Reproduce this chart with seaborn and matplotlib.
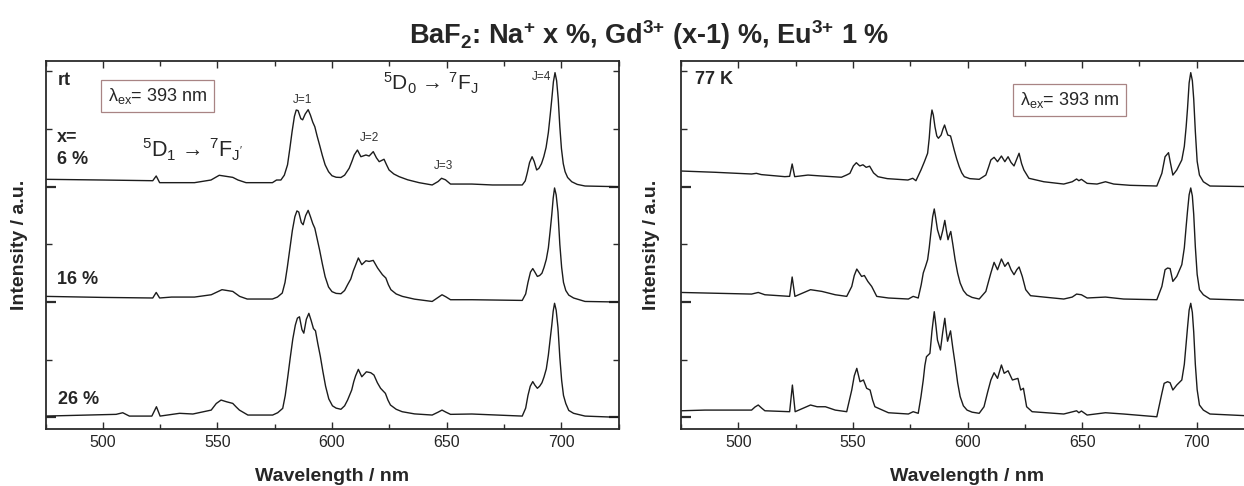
import pandas as pd
import seaborn as sns
import matplotlib.pyplot as plt
from matplotlib.ticker import MultipleLocator, FixedLocator

# emission spectra: (wavelength in nm, intensity normalised to the J=4 line)
rt_6 = [(475, 0.064), (500, 0.058), (521.8, 0.052), (523.3, 0.093), (524.8, 0.035), (540, 0.035),
        (547.2, 0.058), (550.8, 0.099), (556.7, 0.081), (559, 0.058), (562.5, 0.035), (574, 0.035),
        (575.8, 0.058), (577.7, 0.058), (579.2, 0.1), (580.6, 0.19), (581.6, 0.33), (582.6, 0.48),
        (583.6, 0.61), (584.4, 0.665), (585.2, 0.66), (586.4, 0.59), (587.2, 0.58), (588.3, 0.63),
        (589.6, 0.668), (590.6, 0.62), (591.6, 0.56), (592.5, 0.52), (593.5, 0.44), (594.6, 0.36),
        (595.8, 0.27), (597, 0.19), (598.5, 0.13), (600, 0.095), (601.8, 0.082), (603.9, 0.08),
        (605.5, 0.1), (606.5, 0.13), (607.5, 0.16), (608.7, 0.22), (609.7, 0.275), (611.1, 0.318),
        (612.6, 0.26), (614.8, 0.275), (616.2, 0.266), (618, 0.304), (619.4, 0.25), (620.6, 0.217),
        (622.7, 0.238), (623.8, 0.19), (624.9, 0.145), (627, 0.11), (629.3, 0.087), (633, 0.06),
        (638, 0.035), (643.7, 0.015), (646.3, 0.045), (647.8, 0.073), (649.5, 0.06), (651.7, 0.023),
        (661, 0.023), (670, 0.015), (683, 0.015), (684.3, 0.05), (685.2, 0.12), (686.2, 0.21),
        (687.3, 0.26), (688.2, 0.22), (689.3, 0.145), (690.3, 0.16), (691.4, 0.2), (692.4, 0.26),
        (693.4, 0.34), (694.4, 0.47), (695.2, 0.62), (695.9, 0.76), (696.6, 0.91), (697.3, 0.989),
        (698, 0.92), (698.7, 0.76), (699.4, 0.52), (700.1, 0.33), (700.9, 0.2), (701.7, 0.13),
        (702.8, 0.08), (704.6, 0.043), (707, 0.02), (710.4, 0.006), (725, 0.0)]
rt_16 = [(475, 0.049), (500, 0.04), (521.8, 0.035), (523.3, 0.083), (524.8, 0.035), (530, 0.043),
         (540, 0.043), (547.3, 0.063), (552, 0.107), (556.7, 0.092), (559.7, 0.049), (563, 0.026),
         (574, 0.026), (576.2, 0.043), (578.3, 0.078), (579.5, 0.17), (580.5, 0.3), (581.6, 0.46),
         (582.7, 0.62), (583.8, 0.74), (584.7, 0.79), (585.5, 0.78), (586.6, 0.69), (587.4, 0.67),
         (588.5, 0.75), (589.6, 0.795), (590.6, 0.74), (591.6, 0.68), (592.5, 0.64), (593.5, 0.55),
         (594.6, 0.45), (595.8, 0.33), (597, 0.22), (598.5, 0.13), (600, 0.09), (601.8, 0.075),
         (603.9, 0.072), (605.5, 0.1), (606.8, 0.15), (608.2, 0.2), (609.3, 0.27), (610.1, 0.31),
         (611.5, 0.382), (613, 0.324), (614.8, 0.358), (616.2, 0.352), (618, 0.361), (619.9, 0.295),
         (622, 0.237), (623.5, 0.208), (624.6, 0.15), (625.7, 0.107), (628, 0.07), (630.7, 0.049),
         (636, 0.025), (643.7, 0.005), (646.3, 0.04), (648, 0.063), (649.7, 0.045), (651.7, 0.02),
         (661, 0.02), (683, 0.014), (684.5, 0.07), (685.5, 0.17), (686.6, 0.26), (687.6, 0.29),
         (688.5, 0.26), (689.6, 0.222), (690.6, 0.23), (691.6, 0.25), (692.5, 0.3), (693.5, 0.37),
         (694.4, 0.47), (695.2, 0.62), (695.9, 0.76), (696.5, 0.9), (697.1, 0.989), (697.8, 0.93),
         (698.6, 0.78), (699.4, 0.5), (700.2, 0.3), (701, 0.17), (702, 0.1), (703.3, 0.06),
         (705.4, 0.035), (710.4, 0.005), (725, 0.0)]
rt_26 = [(475, 0.011), (505.8, 0.026), (508.7, 0.04), (511.6, 0.011), (521.4, 0.011), (523.4, 0.092),
         (525, 0.011), (533.5, 0.035), (539.3, 0.029), (547.3, 0.063), (549.5, 0.12), (551.6, 0.15),
         (554, 0.135), (556.7, 0.121), (558.2, 0.09), (559.6, 0.063), (563.3, 0.02), (574.1, 0.02),
         (576.3, 0.04), (578.5, 0.078), (579.6, 0.19), (580.7, 0.35), (581.8, 0.52), (582.9, 0.68),
         (584, 0.8), (584.9, 0.86), (585.8, 0.872), (586.9, 0.76), (587.7, 0.73), (588.8, 0.85),
         (589.9, 0.902), (590.9, 0.84), (591.9, 0.77), (592.8, 0.75), (593.8, 0.64), (594.9, 0.53),
         (596, 0.4), (597.2, 0.27), (598.6, 0.16), (600.2, 0.1), (601.8, 0.08), (603.9, 0.07),
         (605.5, 0.1), (606.8, 0.15), (608.6, 0.237), (609.5, 0.31), (610.3, 0.36), (611.5, 0.416),
         (613, 0.352), (615, 0.395), (616.9, 0.387), (618.3, 0.367), (619.8, 0.3), (621.2, 0.252),
         (623.3, 0.208), (624.4, 0.15), (625.5, 0.107), (628, 0.07), (630.6, 0.049), (636, 0.03),
         (643.7, 0.02), (646.3, 0.045), (648, 0.063), (649.7, 0.045), (651.7, 0.026), (661, 0.029),
         (683, 0.011), (684.5, 0.08), (685.5, 0.19), (686.5, 0.27), (687.6, 0.31), (688.5, 0.28),
         (689.6, 0.252), (690.6, 0.27), (691.6, 0.3), (692.5, 0.35), (693.5, 0.42), (694.4, 0.54),
         (695.2, 0.68), (695.9, 0.8), (696.5, 0.92), (697.1, 0.989), (697.8, 0.93), (698.6, 0.78),
         (699.4, 0.52), (700.2, 0.32), (701, 0.19), (702, 0.12), (703.3, 0.06), (705.4, 0.035),
         (710.4, 0.011), (725, 0.0)]

k77_6 = [(475, 0.136), (489.9, 0.125), (505.8, 0.11), (507.9, 0.116), (510, 0.105), (520.3, 0.087),
         (522.4, 0.09), (523.5, 0.197), (524.6, 0.087), (530.4, 0.101), (536.2, 0.093), (545, 0.082),
         (547.2, 0.101), (548.7, 0.116), (550.2, 0.18), (551.5, 0.208), (553, 0.18), (554.4, 0.19),
         (555.8, 0.168), (557.3, 0.178), (559, 0.12), (560.9, 0.087), (565, 0.07), (574, 0.058),
         (576.1, 0.073), (577.5, 0.052), (579.7, 0.145), (581.2, 0.217), (582.6, 0.29), (583.3, 0.42),
         (583.9, 0.58), (584.5, 0.665), (585.1, 0.62), (585.8, 0.52), (586.6, 0.44), (587.3, 0.42),
         (588.5, 0.448), (589.3, 0.5), (590, 0.535), (590.7, 0.49), (591.4, 0.448), (592.6, 0.44),
         (593.4, 0.38), (594.2, 0.318), (595.3, 0.24), (596.4, 0.173), (597.5, 0.12), (598.6, 0.087),
         (601, 0.07), (605.1, 0.064), (608, 0.101), (609.2, 0.17), (610.2, 0.232), (611.6, 0.255),
         (613.1, 0.217), (614.8, 0.266), (616.3, 0.217), (617.7, 0.26), (619, 0.21), (620.3, 0.18),
         (621.5, 0.24), (622.5, 0.29), (623.6, 0.2), (624.6, 0.145), (626.8, 0.073), (633.3, 0.043),
         (642, 0.023), (645.7, 0.043), (647.6, 0.067), (648.6, 0.052), (649.7, 0.064), (652.2, 0.029),
         (656.5, 0.023), (660.2, 0.043), (663.8, 0.023), (671, 0.012), (682.6, 0.006), (684.8, 0.116),
         (686.2, 0.26), (687.7, 0.295), (688.6, 0.2), (689.6, 0.101), (691.3, 0.145), (693.5, 0.232),
         (694.6, 0.35), (695.4, 0.52), (696, 0.68), (696.7, 0.9), (697.4, 0.989), (698.1, 0.92),
         (698.7, 0.76), (699.4, 0.48), (700.2, 0.22), (701.2, 0.101), (702.9, 0.043), (705.8, 0.006),
         (725, 0.0)]
k77_16 = [(475, 0.083), (505.8, 0.069), (508.7, 0.083), (511.6, 0.063), (522.4, 0.049), (523.5, 0.217),
          (524.7, 0.049), (531.5, 0.107), (536.5, 0.092), (542.3, 0.063), (547.3, 0.049), (549.5, 0.135),
          (550.6, 0.23), (551.7, 0.286), (553.8, 0.222), (555, 0.23), (556.5, 0.179), (558.2, 0.135),
          (560.4, 0.049), (565.5, 0.035), (574.2, 0.026), (576.3, 0.049), (578.5, 0.035), (579.8, 0.15),
          (580.7, 0.252), (581.7, 0.31), (582.6, 0.367), (583.3, 0.47), (584, 0.598), (584.8, 0.74),
          (585.5, 0.807), (586.2, 0.72), (586.9, 0.627), (588.2, 0.54), (589.2, 0.62), (590.1, 0.708),
          (590.8, 0.62), (591.5, 0.54), (592.1, 0.58), (592.7, 0.612), (593.6, 0.5), (594.6, 0.367),
          (595.7, 0.25), (596.8, 0.165), (598.2, 0.1), (599.7, 0.063), (602, 0.04), (605.1, 0.026),
          (608, 0.092), (609.2, 0.18), (610.2, 0.252), (611.6, 0.344), (613.1, 0.28), (614.8, 0.373),
          (616.3, 0.309), (617.7, 0.344), (619, 0.28), (620.3, 0.237), (621.5, 0.28), (622.5, 0.304),
          (623.9, 0.222), (625.4, 0.107), (627.5, 0.055), (633.3, 0.043), (642, 0.026), (645.7, 0.043),
          (647.6, 0.069), (649.7, 0.063), (652.2, 0.035), (660.2, 0.043), (668.1, 0.026), (682.6, 0.02),
          (684.8, 0.135), (686.2, 0.28), (687.3, 0.295), (688.4, 0.29), (689.6, 0.179), (691.3, 0.222),
          (693.5, 0.324), (694.6, 0.47), (695.4, 0.656), (696, 0.79), (696.7, 0.93), (697.4, 0.989),
          (698.1, 0.92), (698.7, 0.76), (699.4, 0.48), (700.2, 0.24), (701.2, 0.107), (702.9, 0.063),
          (705.8, 0.026), (725, 0.014)]
k77_26 = [(475, 0.057), (485.4, 0.063), (505.8, 0.063), (507.3, 0.09), (508.7, 0.107), (510.2, 0.08),
          (511.6, 0.057), (522.4, 0.049), (523.6, 0.28), (524.8, 0.049), (531.5, 0.107), (534.4, 0.092),
          (538, 0.092), (542.3, 0.063), (547.3, 0.049), (549.5, 0.237), (550.6, 0.36), (551.7, 0.425),
          (553.1, 0.309), (554.6, 0.324), (556, 0.252), (557.5, 0.237), (558.6, 0.15), (559.6, 0.092),
          (565.5, 0.04), (574.2, 0.029), (576.3, 0.049), (578.5, 0.035), (579.7, 0.18), (580.7, 0.324),
          (581.4, 0.45), (582.1, 0.526), (583.6, 0.555), (584.5, 0.75), (585.5, 0.916), (586.2, 0.8),
          (586.9, 0.67), (588.2, 0.584), (589.2, 0.74), (590.1, 0.859), (590.7, 0.75), (591.3, 0.66),
          (592, 0.71), (592.6, 0.75), (593.6, 0.6), (594.7, 0.45), (595.7, 0.3), (596.8, 0.18),
          (598.2, 0.1), (599.8, 0.063), (602, 0.045), (605.1, 0.035), (607.2, 0.092), (608.8, 0.22),
          (610.2, 0.324), (611.6, 0.387), (613.1, 0.338), (614.8, 0.454), (616, 0.382), (617.7, 0.404),
          (619.6, 0.324), (622, 0.338), (623.2, 0.237), (624.4, 0.252), (625.8, 0.092), (628.2, 0.049),
          (642, 0.029), (647.6, 0.057), (648.6, 0.04), (649.7, 0.055), (652.2, 0.02), (660.2, 0.04),
          (668.1, 0.029), (682.6, 0.005), (684.8, 0.208), (685.8, 0.295), (687.3, 0.309), (688.4, 0.3),
          (689.6, 0.237), (691.3, 0.28), (693.5, 0.324), (694.6, 0.46), (695.4, 0.642), (696, 0.78),
          (696.7, 0.93), (697.4, 0.989), (698.1, 0.91), (698.7, 0.74), (699.4, 0.46), (700.2, 0.24),
          (701.2, 0.107), (702.9, 0.063), (705.8, 0.029), (725, 0.011)]

samples = ["6 %", "16 %", "26 %"]
offsets = [2, 1, 0]
x_ticks = [500, 550, 600, 650, 700]


def to_frame(spectra):
    rows = []
    for name, off, pts in zip(samples, offsets, spectra):
        for wl, val in pts:
            rows.append((name, wl, val + off))
    return pd.DataFrame(rows, columns=["sample", "wavelength", "intensity"])


sns.set_theme(style="ticks")
plt.rcParams["font.family"] = ["Liberation Sans", "DejaVu Sans"]
plt.rcParams["mathtext.fontset"] = "custom"
plt.rcParams["mathtext.rm"] = "Liberation Sans"
plt.rcParams["mathtext.it"] = "Liberation Sans:italic"
plt.rcParams["mathtext.bf"] = "Liberation Sans:bold"
plt.rcParams["mathtext.default"] = "regular"

W, H = 1244, 486
fig = plt.figure(figsize=(W / 100, H / 100), dpi=100)
ax1 = fig.add_axes([45.5 / W, 57 / H, 573 / W, 368 / H])
ax2 = fig.add_axes([681 / W, 57 / H, 573 / W, 368 / H])

line_col = "#1c1c1c"
box_col = "#a88484"

for ax, spectra in [(ax1, [rt_6, rt_16, rt_26]), (ax2, [k77_6, k77_16, k77_26])]:
    df = to_frame(spectra)
    sns.lineplot(data=df, x="wavelength", y="intensity", units="sample", estimator=None,
                 sort=False, color=line_col, lw=1.0, legend=False, ax=ax)
    ax.set_xlim(475, 725)
    ax.set_ylim(-0.101, 3.09)
    ax.set_xticks(x_ticks)
    ax.xaxis.set_minor_locator(MultipleLocator(25))
    ax.yaxis.set_major_locator(FixedLocator(offsets))
    ax.yaxis.set_minor_locator(FixedLocator([0.5, 1.5, 2.5, 3.0]))
    ax.tick_params(which="both", direction="in", top=True, right=True, labelleft=False,
                   color="#2b2b2b")
    ax.tick_params(axis="x", which="major", length=5, width=1, labelsize=11.5, pad=4)
    ax.tick_params(axis="x", which="minor", length=3.5, width=1)
    ax.tick_params(axis="y", which="major", length=7, width=1.6)
    ax.tick_params(axis="y", which="minor", length=4, width=1)
    for s in ax.spines.values():
        s.set_linewidth(1.3)
        s.set_color("#2b2b2b")
    ax.set_xlabel("Wavelength / nm", fontsize=14, fontweight="bold", labelpad=13)
    ax.set_ylabel("Intensity / a.u.", fontsize=14, fontweight="bold")

ax1.yaxis.set_label_coords(-0.03, 0.5)
ax2.yaxis.set_label_coords(-0.036, 0.5)

box = dict(boxstyle="square,pad=0.35", fc="white", ec=box_col, lw=0.9)
lam = r"$\lambda_{ex}$= 393 nm"

# left panel: room temperature
ax1.text(0.022, 0.946, "rt", transform=ax1.transAxes, fontsize=13, fontweight="bold", va="center")
ax1.text(0.1955, 0.905, lam, transform=ax1.transAxes, fontsize=13, ha="center", va="center", bbox=box)
ax1.text(0.02, 0.793, "x=", transform=ax1.transAxes, fontsize=13, fontweight="bold", va="center")
ax1.text(0.02, 0.731, samples[0], transform=ax1.transAxes, fontsize=13, fontweight="bold", va="center")
ax1.text(0.02, 0.405, samples[1], transform=ax1.transAxes, fontsize=13, fontweight="bold", va="center")
ax1.text(0.022, 0.079, samples[2], transform=ax1.transAxes, fontsize=13, fontweight="bold", va="center")
ax1.text(0.256, 0.758, r"$^5$D$_1$ → $^7$F$_{J'}$", transform=ax1.transAxes, fontsize=15.5,
         ha="center", va="center")
ax1.text(0.673, 0.940, r"$^5$D$_0$ → $^7$F$_J$", transform=ax1.transAxes, fontsize=15,
         ha="center", va="center")
for lab, xx, yy in [("J=1", 0.449, 0.894), ("J=2", 0.565, 0.791), ("J=3", 0.695, 0.715), ("J=4", 0.865, 0.957)]:
    ax1.text(xx, yy, lab, transform=ax1.transAxes, fontsize=8.5, ha="center", va="center", color="#333333")

# right panel: 77 K
ax2.text(0.024, 0.951, "77 K", transform=ax2.transAxes, fontsize=13, fontweight="bold", va="center")
ax2.text(0.678, 0.894, lam, transform=ax2.transAxes, fontsize=13, ha="center", va="center", bbox=box)

fig.text(0.522, 0.928, r"BaF$_2$: Na$^{+}$ x %, Gd$^{3{+}}$ (x-1) %, Eu$^{3{+}}$ 1 %", ha="center",
         va="center", fontsize=19.5, fontweight="bold")

fig.savefig("out.png", dpi=100)
